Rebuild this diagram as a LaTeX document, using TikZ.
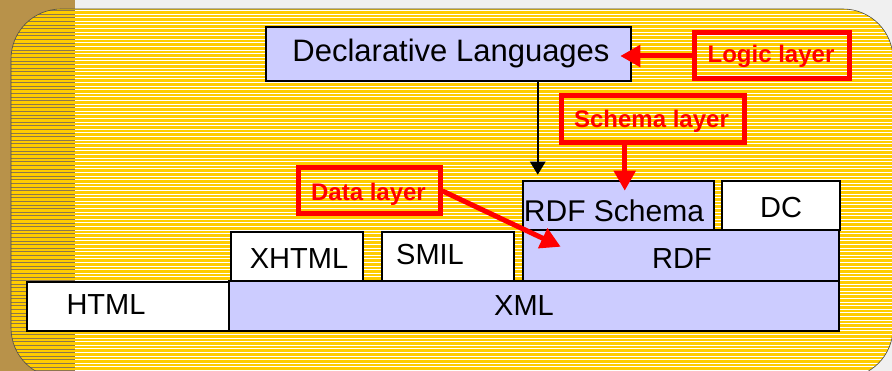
\documentclass[tikz,border=0pt]{standalone}
\usepackage{fontspec}
\setmainfont{Liberation Sans}
\usetikzlibrary{arrows.meta}

\definecolor{bgyellow}{RGB}{255,204,0}
\definecolor{lavender}{RGB}{204,204,255}
\definecolor{parchment}{RGB}{184,146,74}
\definecolor{paper}{RGB}{240,240,240}
\definecolor{shadeline}{RGB}{140,118,78}

\begin{document}
\begin{tikzpicture}[x=1pt,y=-1pt,line join=miter,
  layerbox/.style={draw=black,line width=2.5pt,fill=lavender,inner sep=0pt},
  plainbox/.style={layerbox,fill=white},
  notebox/.style={draw=red,line width=5pt,inner sep=0pt},
  caption/.style={anchor=base,inner sep=0pt,font=\fontsize{29}{34}\selectfont},
  notetext/.style={anchor=base,inner sep=0pt,text=red,font=\fontsize{24}{28}\selectfont\bfseries},
  redarrow/.style={draw=red,line width=5pt,-{Triangle[length=20pt,width=21pt]}},
  blackarrow/.style={draw=black,line width=2.5pt,-{Triangle[length=13pt,width=15pt]}}]

\useasboundingbox (0,0) rectangle (892,371);

% Background
\fill[paper] (0,0) rectangle (892,371);
\fill[parchment] (0,0) rectangle (75,371);
\begin{scope}
  \clip[rounded corners=50pt] (11,9) rectangle (893,378);
  \fill[bgyellow] (0,0) rectangle (900,380);
  \foreach \y in {10.5,14.1,...,380} {
    \draw[white,line width=0.9pt] (75,\y) -- (900,\y);
    \draw[shadeline,line width=0.6pt] (0,\y) -- (75,\y);
  }
\end{scope}
\draw[rounded corners=50pt,line width=0.6pt,black!70] (11,9) rectangle (893,378);

% Node: Declarative Languages
\node[layerbox,minimum width=365pt,minimum height=54pt] (decl) at (448.5,54) {};
\node[caption,font=\fontsize{31}{36}\selectfont] (declt) at (451,62) {Declarative Languages};

% Node: HTML
\node[plainbox,minimum width=202pt,minimum height=49pt] (html) at (128,306.5) {};
\node[caption] (htmlt) at (106,315) {HTML};

% Node: XML
\node[layerbox,minimum width=610pt,minimum height=50pt] (xml) at (534,306) {};
\node[caption] (xmlt) at (524,316) {XML};

% Node: XHTML
\node[plainbox,minimum width=132pt,minimum height=49pt] (xhtml) at (297,256.5) {};
\node[caption] (xhtmlt) at (299,269) {XHTML};

% Node: SMIL
\node[plainbox,minimum width=132pt,minimum height=49pt] (smil) at (448,256.5) {};
\node[caption] (smilt) at (430,265) {SMIL};

% Node: RDF
\node[layerbox,minimum width=316pt,minimum height=51pt] (rdf) at (681,255.5) {};
\node[caption] (rdft) at (682,269) {RDF};

% Node: RDF Schema
\node[layerbox,minimum width=191pt,minimum height=49pt] (rdfs) at (618.5,205.5) {};
\node[caption,font=\fontsize{30}{35}\selectfont] (rdfst) at (614,222) {RDF Schema};

% Node: DC
\node[plainbox,minimum width=118pt,minimum height=49pt] (dc) at (781,205.5) {};
\node[caption] (dct) at (781,218) {DC};

% Node: Logic layer
\node[notebox,minimum width=155pt,minimum height=46pt] (logic) at (771.5,56) {};
\node[notetext] (logict) at (771,63) {Logic layer};

% Node: Schema layer
\node[notebox,minimum width=183pt,minimum height=47pt] (schema) at (652.5,119.5) {};
\node[notetext] (schemat) at (651.5,128) {Schema layer};

% Node: Data layer
\node[notebox,minimum width=142pt,minimum height=46pt] (data) at (369,191) {};
\node[notetext] (datat) at (368.5,201) {Data layer};

% Edge: Declarative Languages -> RDF Schema
\coordinate (rdfsin) at ([xshift=16pt]rdfs.north west);
\draw[blackarrow,shorten >=5pt] (rdfsin |- decl.south) -- (rdfsin);

% Edge: Logic layer -> Declarative Languages
\coordinate (logictip) at ([xshift=-12pt]decl.east);
\draw[redarrow] (logic.west) -- (logictip |- logic.west);

% Edge: Schema layer -> RDF Schema
\coordinate (schematip) at ([xshift=103pt,yshift=-11pt]rdfs.north west);
\draw[redarrow] (schematip |- schema.south) -- (schematip);

% Edge: Data layer -> RDF
\coordinate (datatip) at ([xshift=39pt,yshift=-18pt]rdf.north west);
\draw[redarrow] (data.east) -- (datatip);

\end{tikzpicture}
\end{document}
